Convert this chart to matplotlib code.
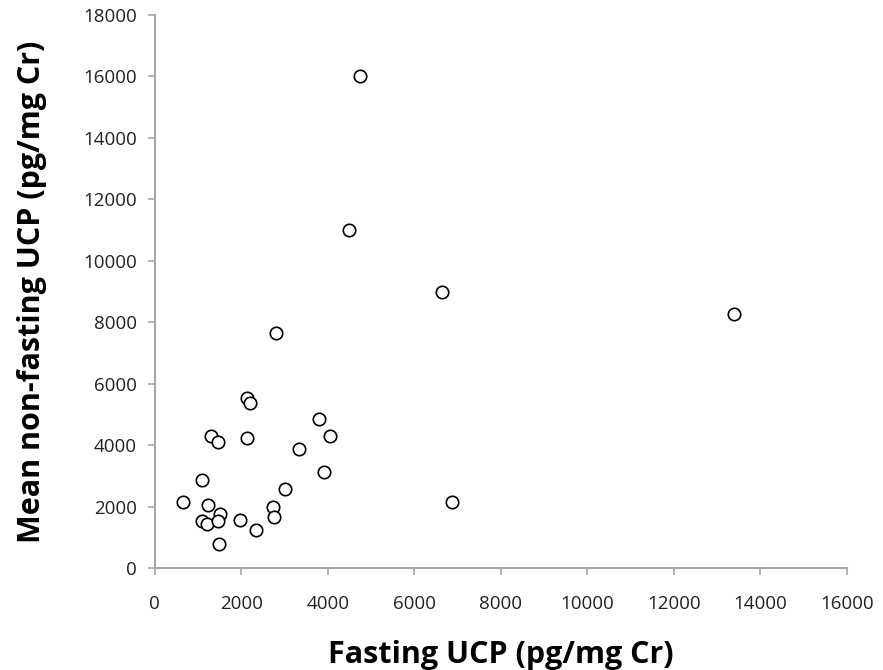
import matplotlib
matplotlib.use("Agg")
import matplotlib.pyplot as plt

# fasting vs mean non-fasting UCP
fasting = [2127, 2203, 1295, 1464, 2127, 3806, 4053, 3337, 3922, 1087,
           3006, 647, 1239, 1510, 2735, 2765, 1087, 1216, 1471, 1972,
           2335, 1494, 4750, 4490, 6640, 2800, 13400, 6870]
non_fasting = [5550, 5360, 4290, 4110, 4240, 4850, 4290, 3890, 3120, 2880,
               2560, 2150, 2040, 1750, 1990, 1650, 1530, 1450, 1530, 1580,
               1250, 800, 16000, 11000, 8980, 7660, 8270, 2140]

XTICKS = list(range(0, 16001, 2000))
YTICKS = list(range(0, 18001, 2000))
GREY = "#a6a6a6"

fig = plt.figure(figsize=(8.83, 6.70), dpi=100)
ax = fig.add_axes([0.1752, 0.152, 0.7838, 0.826])

ax.scatter(fasting, non_fasting, s=80, facecolors="white",
           edgecolors="black", linewidths=1.2, zorder=3, clip_on=False)

ax.set_xlim(0, 16000); ax.set_ylim(0, 18000)
ax.set_xticks(XTICKS); ax.set_yticks(YTICKS)
for s in ("top", "right"):
    ax.spines[s].set_visible(False)
for s in ("left", "bottom"):
    ax.spines[s].set_color(GREY)
    ax.spines[s].set_linewidth(1.5)
ax.tick_params(direction="out", length=5, width=1.2, color=GREY,
               labelsize=13.5, labelcolor="#222222")
ax.tick_params(axis="x", pad=14)
ax.tick_params(axis="y", pad=8)
for lab in ax.get_xticklabels() + ax.get_yticklabels():
    lab.set_family("Open Sans")

ax.set_xlabel("Fasting UCP (pg/mg Cr)", fontsize=22, fontweight="bold",
              family="Open Sans", labelpad=20)
ax.set_ylabel("Mean non-fasting UCP (pg/mg Cr)", fontsize=22,
              fontweight="bold", family="Open Sans", labelpad=26)

fig.savefig("out.png", dpi=100, facecolor="white")
